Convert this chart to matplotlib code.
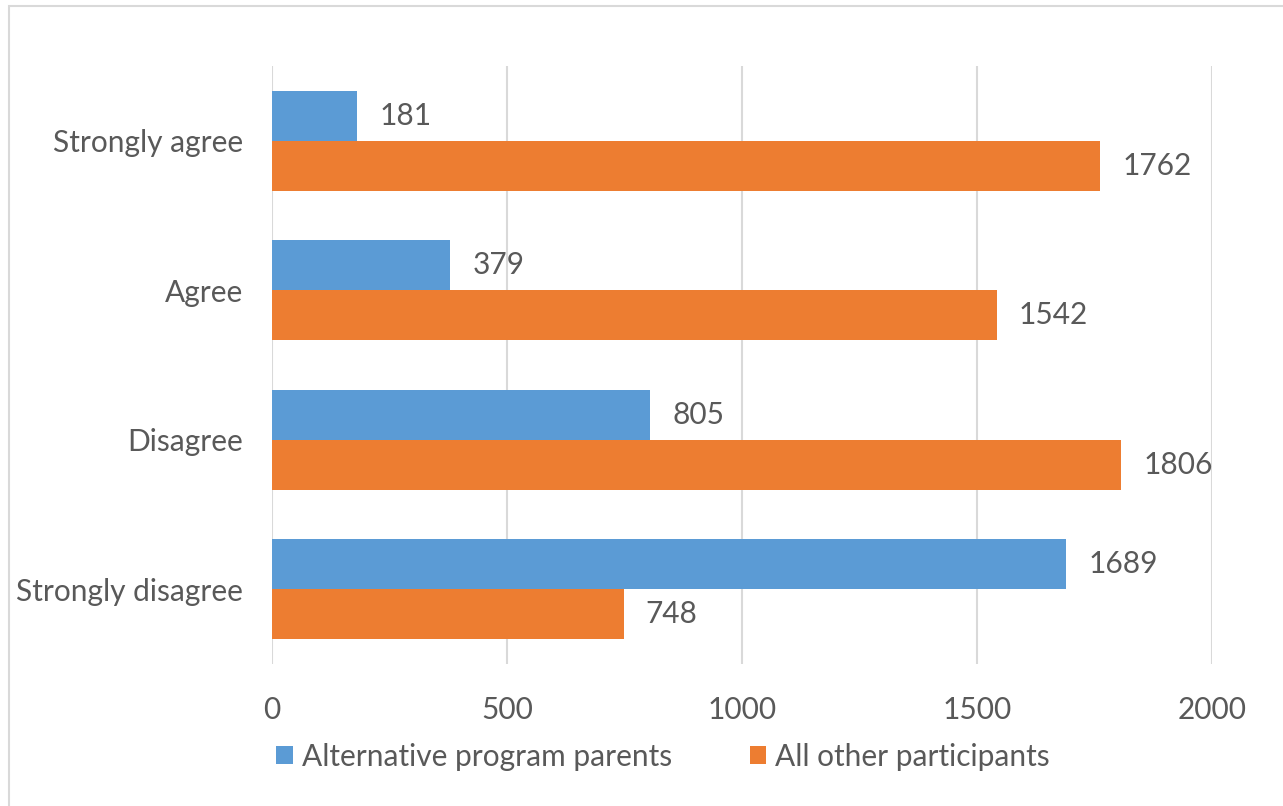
import numpy as np
import matplotlib.pyplot as plt
from matplotlib.patches import Rectangle

categories = ['Strongly agree', 'Agree', 'Disagree', 'Strongly disagree']
alt_parents = [181, 379, 805, 1689]
all_others = [1762, 1542, 1806, 748]
series_names = ['Alternative program parents', 'All other participants']

blue = '#5B9BD5'
orange = '#ED7D31'
text_col = '#595959'
grid_col = '#D9D9D9'
fs = 21.5

plt.rcParams['font.family'] = ['Lato', 'DejaVu Sans']
plt.rcParams['font.size'] = fs

W, H = 1283, 806
fig = plt.figure(figsize=(W / 100, H / 100), dpi=100)
ax = fig.add_axes([272 / W, 1 - 664 / H, 940 / W, 598 / H])

# chart area border (light grey, cut off at right and bottom)
fig.patches.append(Rectangle((8.5 / W, -0.1), 1.2, 1 - 6 / H + 0.1,
                             transform=fig.transFigure, fill=False,
                             edgecolor=grid_col, lw=1.5))

y = np.arange(len(categories))
h = 1 / 3
b1 = ax.barh(y - h / 2, alt_parents, height=h, color=blue, label=series_names[0], zorder=3)
b2 = ax.barh(y + h / 2, all_others, height=h, color=orange, label=series_names[1], zorder=3)

for bars in (b1, b2):
    ax.bar_label(bars, padding=16, color=text_col, fontsize=fs)

ax.set_xlim(0, 2000)
ax.set_ylim(len(categories) - 0.5, -0.5)
ax.set_xticks([0, 500, 1000, 1500, 2000])
ax.set_yticks(y)
ax.set_yticklabels(categories)
ax.tick_params(axis='both', length=0, colors=text_col, labelsize=fs)
ax.tick_params(axis='y', pad=21)
ax.tick_params(axis='x', pad=23)
ax.grid(axis='x', color=grid_col, lw=1.5, zorder=0)
for s in ax.spines.values():
    s.set_visible(False)

fig.legend(loc='center', bbox_to_anchor=(663 / W, 1 - 757 / H), ncol=2,
           frameon=False, handlelength=0.55, handleheight=0.55, handletextpad=0.3,
           columnspacing=2.6, fontsize=fs, labelcolor=text_col)

plt.savefig('out.png', dpi=100)
